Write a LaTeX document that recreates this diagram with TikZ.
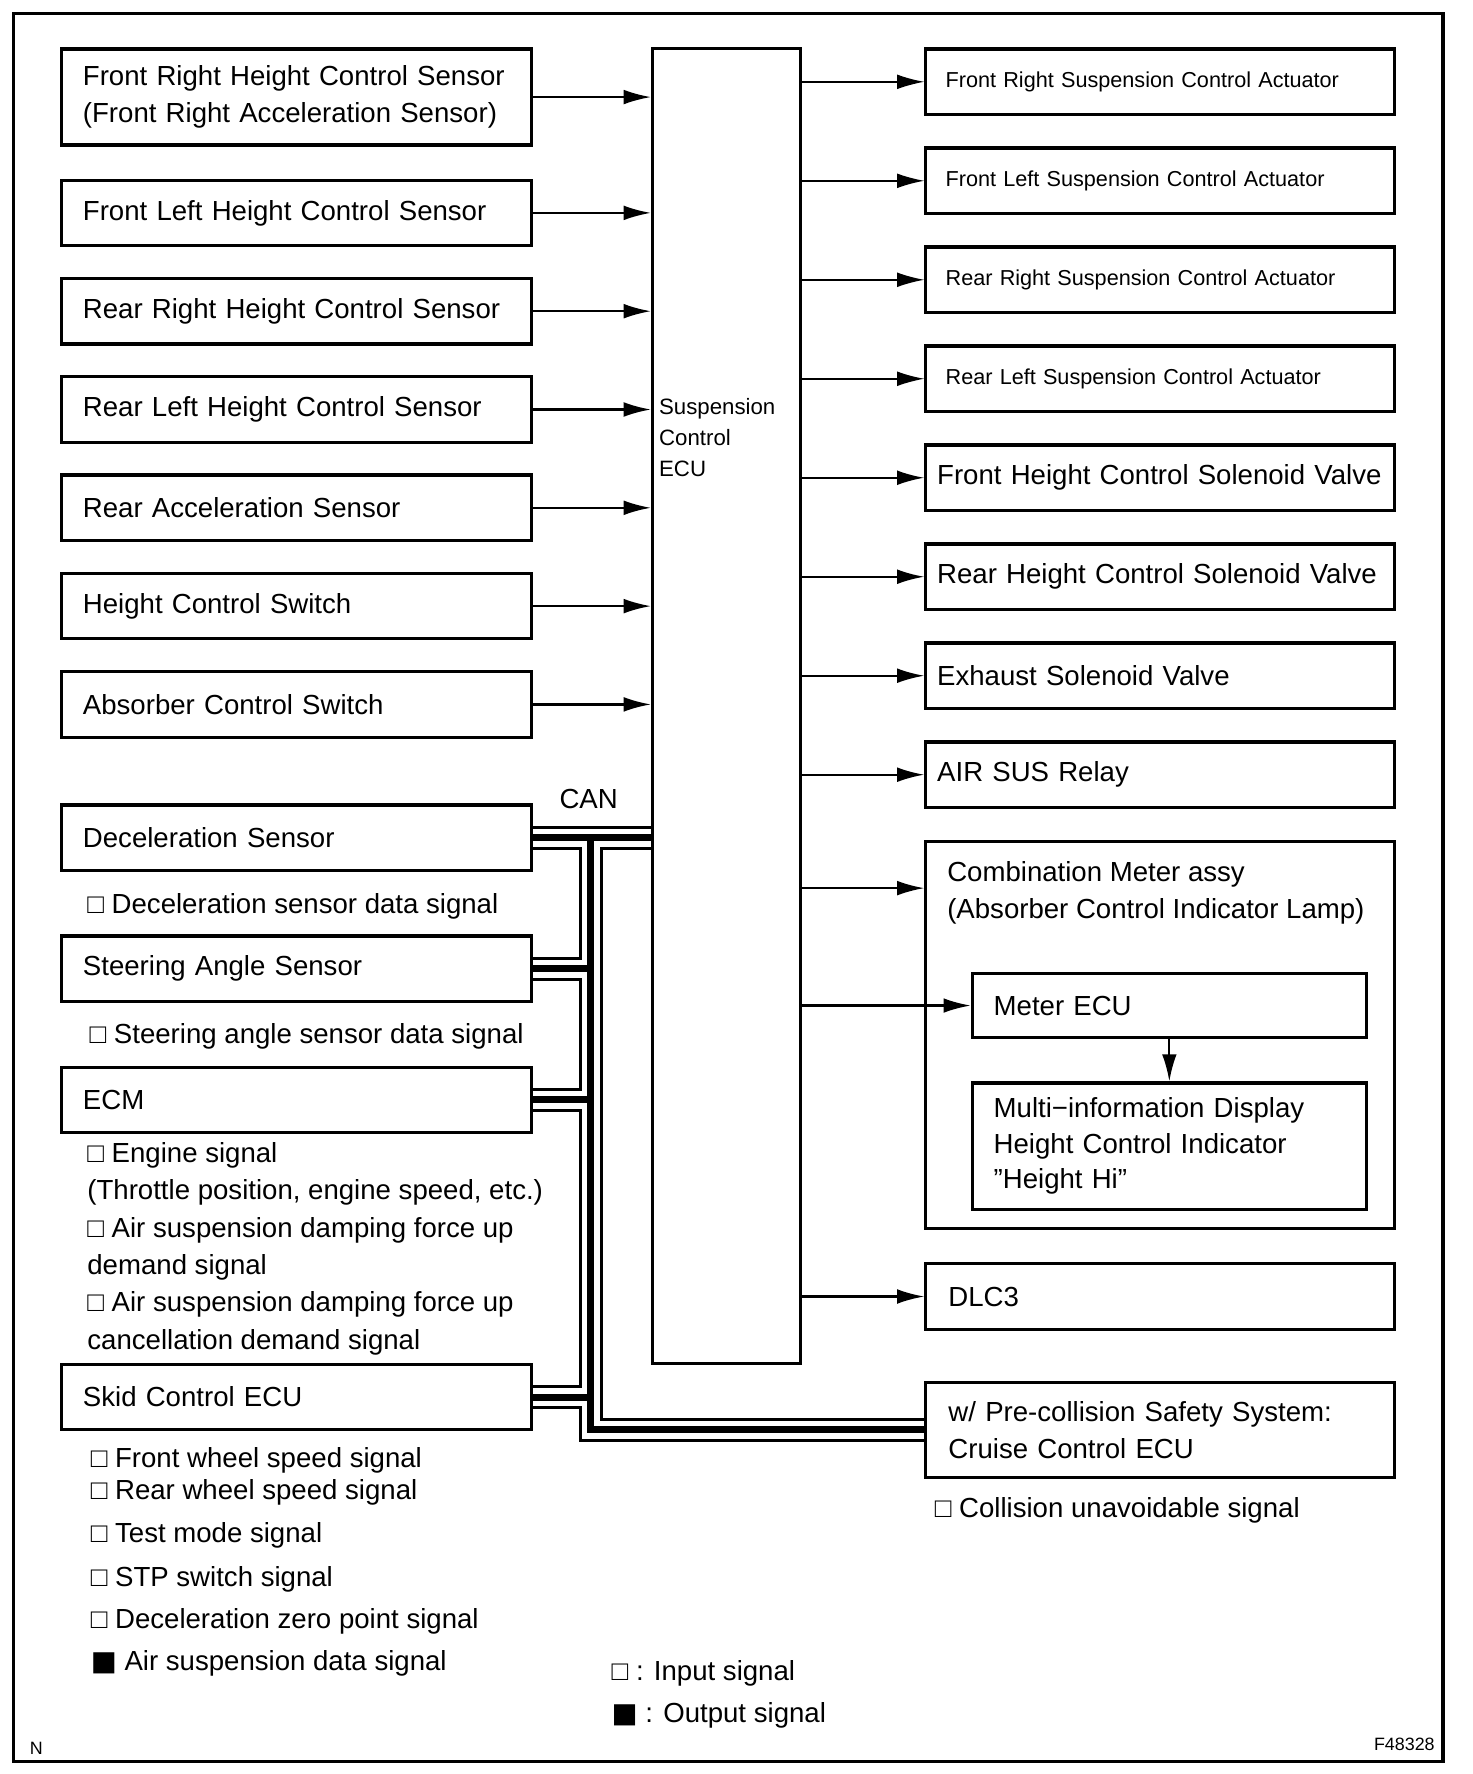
\documentclass[tikz,border=0pt]{standalone}
\usepackage{fontspec}
\setmainfont{Liberation Sans}
\newfontfamily\blockfont{DejaVu Sans}
\usepackage{tikz}
\usetikzlibrary{arrows.meta}
\usetikzlibrary{backgrounds}

\newcommand{\bigsize}{\fontsize{13.9}{18.8}\selectfont}
\newcommand{\smallsize}{\fontsize{10.9}{14}\selectfont}
\newcommand{\ecusize}{\fontsize{11.2}{15.6}\selectfont}
\newcommand{\tinysize}{\fontsize{9}{11}\selectfont}
\newcommand{\outmark}{{\blockfont ■}}

\tikzset{
  sensbox/.style={draw, line width=1.6pt, anchor=north west, minimum width=8.32cm, minimum height=1.16cm,
    inner xsep=0.38cm, text width=7.56cm, align=left},
  outbox/.style={draw, line width=1.6pt, anchor=north west, minimum width=8.3cm, minimum height=1.16cm,
    inner xsep=0.2cm, text width=7.9cm, align=left},
  meterbox/.style={draw, line width=1.6pt, anchor=north west, minimum width=6.98cm, minimum height=1.14cm,
    inner xsep=0.38cm, text width=6.22cm, align=left},
  sig/.style={anchor=west, inner sep=0pt, align=left, yshift=-0.08cm},
  arr/.style={line width=1.1pt, -{Latex[length=4.8mm,width=2.6mm]}},
  thinarr/.style={line width=0.8pt, -{Latex[length=4.8mm,width=2.6mm]}},
}

\begin{document}
\begin{tikzpicture}[x=0.02cm, y=-0.02cm, font=\bigsize]
  \useasboundingbox (0,0) rectangle (1303,1570);
  % frame
  \draw[line width=1.6pt] (12,12) rectangle (1277,1559);

  % suspension control ECU
  \node[draw, line width=1.4pt, anchor=north west, minimum width=2.62cm, minimum height=23.28cm, inner sep=0pt] (ecu) at (576,42) {};
  \node[sig, font=\ecusize] (ecutext) at (583,383) {Suspension\\Control\\ECU};

  % sensors and switches
  \node[sensbox, minimum height=1.7cm] (sens1) at (53,42) {Front Right Height Control Sensor\\(Front Right Acceleration Sensor)};
  \foreach \t [count=\n from 2] in {Front Left Height Control Sensor, Rear Right Height Control Sensor,
      Rear Left Height Control Sensor, Rear Acceleration Sensor, Height Control Switch, Absorber Control Switch} {
    \node[sensbox] (sens\n) at (53,{158+87*(\n-2)}) {\t};
  }
  \foreach \n in {1,...,7} {
    \draw[arr] (sens\n.east) -- (sens\n.east -| ecu.west);
  }

  % CAN members
  \node[sensbox] (decel) at (53,711) {Deceleration Sensor};
  \node[sensbox] (steer) at (53,827) {Steering Angle Sensor};
  \node[sensbox] (ecm) at (53,943) {ECM};
  \node[sensbox] (skid) at (53,1206) {Skid Control ECU};
  \node (can) at (521,707) {CAN};

  % signals
  \node[sig] (decelsig) at (77,798) {□ Deceleration sensor data signal};
  \node[sig] (steersig) at (79,913) {□ Steering angle sensor data signal};
  \node[sig] (ecmsig) at (77,1101) {□ Engine signal\\(Throttle position, engine speed, etc.)\\□ Air suspension damping force up\\demand signal\\□ Air suspension damping force up\\cancellation demand signal};
  \foreach \y/\t [count=\n] in {1288/□ Front wheel speed signal, 1317/□ Rear wheel speed signal,
      1355/□ Test mode signal, 1394/□ STP switch signal, 1431/□ Deceleration zero point signal,
      1468/\outmark\ Air suspension data signal} {
    \node[sig] (skidsig\n) at (80,\y) {\t};
  }

  % actuators and outputs
  \foreach \t [count=\n] in {Front Right Suspension Control Actuator, Front Left Suspension Control Actuator,
      Rear Right Suspension Control Actuator, Rear Left Suspension Control Actuator} {
    \node[outbox, font=\smallsize, inner xsep=0.35cm, text width=7.6cm] (act\n) at (818,{42+87.6*(\n-1)}) {\t};
    \draw[thinarr] (act\n.west -| ecu.east) -- (act\n.west);
  }
  \foreach \t [count=\n from 5] in {Front Height Control Solenoid Valve, Rear Height Control Solenoid Valve,
      Exhaust Solenoid Valve, AIR SUS Relay} {
    \node[outbox] (act\n) at (818,{42+87.6*(\n-1)}) {\t};
    \draw[arr] (act\n.west -| ecu.east) -- (act\n.west);
  }

  % combination meter
  \node[outbox, minimum height=6.86cm] (meter) at (818,743) {};
  \node[sig] (metertext) at (838,786) {Combination Meter assy\\(Absorber Control Indicator Lamp)};
  \node[meterbox] (meterecu) at (859,860) {Meter ECU};
  \node[meterbox, minimum height=2.24cm, font=\fontsize{13.9}{17.9}\selectfont] (mid) at (859,957) {Multi−information Display\\Height Control Indicator\\"Height Hi”};
  \draw[arr] ([yshift=-0.86cm]meter.north west -| ecu.east) -- ([yshift=-0.86cm]meter.north west);
  \draw[arr] (meterecu.west -| ecu.east) -- (meterecu.west);
  \draw[arr] (meterecu.south) -- (mid.north);

  \node[outbox, inner xsep=0.4cm, text width=7.5cm] (dlc) at (818,1117) {DLC3};
  \draw[arr] (dlc.west -| ecu.east) -- (dlc.west);

  \node[outbox, minimum height=1.68cm, inner xsep=0.4cm, text width=7.5cm] (cruise) at (818,1222) {w/ Pre-collision Safety System:\\Cruise Control ECU};
  \node[sig] (cruisesig) at (827,1333) {□ Collision unavoidable signal};

  % CAN bus
  \coordinate (canT) at (523,740);
  \coordinate (canB) at (canT |- cruise.west);
  \begin{scope}[on background layer]
    \foreach \w/\c in {12.2pt/black, 8.9pt/white, 3.5pt/black} {
      \draw[line width=\w, draw=\c] (decel.east) -- (decel.east -| ecu.west);
      \draw[line width=\w, draw=\c] (canT) -- (canB) -- (cruise.west);
      \draw[line width=\w, draw=\c] (steer.east) -- (steer.east -| canT);
      \draw[line width=\w, draw=\c] (ecm.east) -- (ecm.east -| canT);
      \draw[line width=\w, draw=\c] (skid.east) -- (skid.east -| canT);
    }
  \end{scope}

  % legend
  \node[sig] (legin) at (541,1477) {□ : Input signal};
  \node[sig] (legout) at (541,1514) {\outmark\ : Output signal};
  \node[sig, font=\tinysize] (mark) at (26,1543) {N};
  \node[anchor=east, inner sep=0pt, font=\tinysize] (fig) at (1270,1544) {F48328};
\end{tikzpicture}
\end{document}
